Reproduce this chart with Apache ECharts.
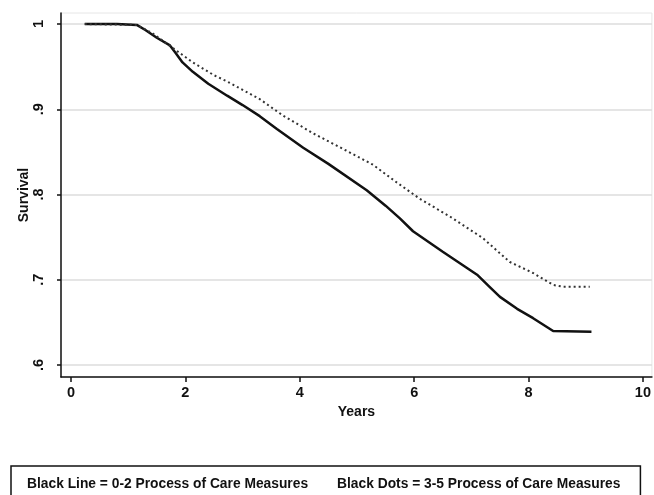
<!DOCTYPE html>
<html>
<head>
<meta charset="utf-8">
<script src="https://cdn.jsdelivr.net/npm/echarts@6/dist/echarts.min.js"></script>
<style>
  html, body { margin: 0; padding: 0; background: #fff; }
  #chart { width: 654px; height: 495px; }
</style>
</head>
<body>
<div id="chart"></div>
<script>
// survival curves, [years, survival]
var lowCare = [
  [0.24, 1.0], [0.8, 1.0], [0.82, 0.999], [1.15, 0.999], [1.3, 0.993],
  [1.5, 0.984], [1.73, 0.975], [1.82, 0.967], [1.95, 0.955], [2.13, 0.944],
  [2.4, 0.93], [2.73, 0.916], [3.0, 0.905], [3.3, 0.892], [3.6, 0.877],
  [4.06, 0.855], [4.5, 0.836], [5.17, 0.805], [5.5, 0.787], [5.75, 0.772],
  [5.98, 0.757], [6.5, 0.733], [7.1, 0.706], [7.3, 0.693], [7.5, 0.68],
  [7.8, 0.666], [8.08, 0.655], [8.43, 0.64], [9.1, 0.639]
];
var highCare = [
  [0.24, 1.0], [1.15, 0.999], [1.43, 0.989], [1.78, 0.972], [2.13, 0.955],
  [2.5, 0.94], [2.72, 0.933], [3.3, 0.912], [3.7, 0.893], [4.23, 0.872],
  [4.8, 0.852], [5.28, 0.835], [5.7, 0.814], [6.1, 0.795], [6.63, 0.774],
  [7.2, 0.749], [7.67, 0.721], [8.08, 0.708], [8.43, 0.694], [8.6, 0.692],
  [9.07, 0.692]
];
var xTicks = [0, 2, 4, 6, 8, 10];
var yTicks = [0.6, 0.7, 0.8, 0.9, 1];
var lowName = 'Black Line = 0-2 Process of Care Measures';
var highName = 'Black Dots = 3-5 Process of Care Measures';

var chart = echarts.init(document.getElementById('chart'));
var font = 'Liberation Sans, Arial, sans-serif';

chart.setOption({
  animation: false,
  backgroundColor: '#fff',
  grid: {
    left: 61, right: 2, top: 13, bottom: 118,
    show: true, borderColor: '#e6e6e6', borderWidth: 1
  },
  legend: {
    left: 11, top: 466,
    icon: 'none', itemWidth: 0, itemGap: 24,
    selectedMode: false,
    padding: [11, 20, 30, 11],
    borderColor: '#111', borderWidth: 1.5,
    textStyle: { fontFamily: font, fontSize: 13.8, color: '#111', fontWeight: 'bold', padding: 0 },
    data: [lowName, highName]
  },
  xAxis: {
    type: 'value',
    min: -0.175, max: 10.157,
    name: 'Years', nameLocation: 'middle', nameGap: 26,
    nameTextStyle: { fontFamily: font, fontSize: 14, fontWeight: 'bold', color: '#111' },
    axisLine: { onZero: false, lineStyle: { color: '#111', width: 1.5 } },
    axisTick: { customValues: xTicks, length: 5, lineStyle: { color: '#111', width: 1.5 } },
    axisLabel: { customValues: xTicks, margin: 8, fontFamily: font, fontSize: 14.5, fontWeight: 'bold', color: '#111' },
    splitLine: { show: false }
  },
  yAxis: {
    type: 'value',
    min: 0.586, max: 1.013,
    name: 'Survival', nameLocation: 'middle', nameGap: 30, nameRotate: 90,
    nameMoveOverlap: false,
    nameTextStyle: { fontFamily: font, fontSize: 14, fontWeight: 'bold', color: '#111' },
    axisLine: { show: true, onZero: false, lineStyle: { color: '#111', width: 1.5 } },
    axisTick: { show: true, customValues: yTicks, length: 4, lineStyle: { color: '#111', width: 1.5 } },
    axisLabel: {
      customValues: yTicks, rotate: 90, margin: 15,
      fontFamily: font, fontSize: 14.5, fontWeight: 'bold', color: '#111',
      formatter: function (v) { return v === 1 ? '1' : String(v).replace('0.', '.'); }
    },
    splitLine: { show: true, lineStyle: { color: '#dcdcdc', width: 1.5 } }
  },
  series: [
    {
      name: lowName, type: 'line', data: lowCare,
      symbol: 'none', color: '#111',
      lineStyle: { color: '#111', width: 2.5 }
    },
    {
      name: highName, type: 'line', data: highCare,
      symbol: 'none', color: '#222',
      lineStyle: { color: '#333', width: 2, type: [2, 3] }
    }
  ]
});
</script>
</body>
</html>
